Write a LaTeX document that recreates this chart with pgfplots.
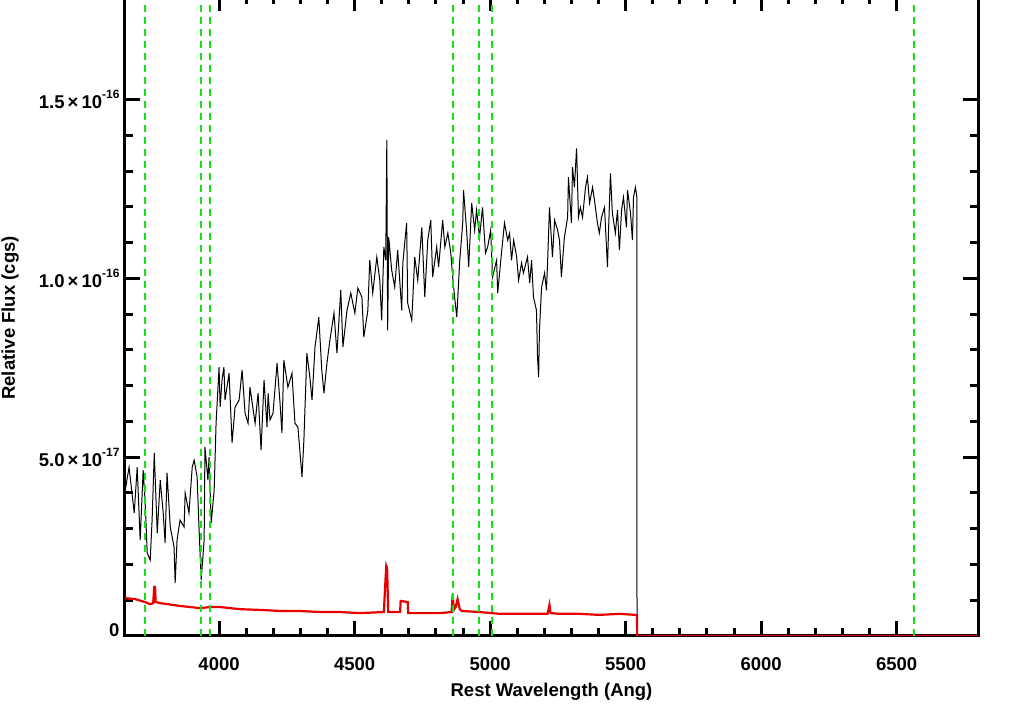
\documentclass[border=0pt]{standalone}
\usepackage{fontspec}
\setmainfont{Liberation Sans}
\usepackage{pgfplots}
\pgfplotsset{compat=1.18}

\definecolor{specred}{RGB}{230,0,0}
\definecolor{linegreen}{RGB}{20,225,20}

% flux in units of 1e-17 cgs
\pgfplotstableread{
lam flux
3654 4.08
3668 4.72
3687 3.44
3698 4.72
3709 2.68
3720 4.64
3727 3.80
3735 2.32
3746 2.12
3753 3.24
3761 5.12
3772 2.88
3783 4.36
3794 3.44
3801 2.60
3808 4.56
3820 3.05
3834 2.49
3838 1.48
3845 2.68
3856 3.24
3871 3.05
3875 4.00
3889 3.44
3901 4.72
3908 4.92
3919 4.45
3926 3.05
3934 1.57
3945 2.68
3948 5.28
3959 4.36
3963 5.00
3971 3.16
3982 4.08
3989 5.95
4000 7.52
4004 6.40
4011 7.16
4018 7.52
4022 6.60
4037 7.35
4048 5.40
4059 6.40
4074 6.60
4085 7.44
4096 6.23
4107 5.95
4114 6.96
4133 5.95
4144 6.79
4155 5.20
4166 7.16
4177 5.84
4181 6.79
4188 6.04
4199 6.23
4214 7.63
4225 6.51
4232 5.68
4239 7.72
4254 6.96
4269 7.35
4280 5.95
4291 5.84
4306 4.45
4313 5.48
4324 7.91
4335 7.24
4343 6.60
4354 8.08
4368 8.92
4379 7.44
4387 6.79
4398 7.63
4409 8.28
4424 9.03
4435 7.91
4449 9.67
4457 8.08
4472 9.11
4486 9.59
4501 9.03
4512 9.73
4527 9.48
4534 8.36
4549 9.11
4556 10.51
4567 9.59
4582 10.60
4593 9.95
4600 8.83
4608 10.88
4615 10.51
4619 13.87
4622 8.55
4626 11.15
4637 10.23
4648 9.76
4659 10.79
4674 9.11
4678 10.43
4692 11.55
4696 9.31
4711 8.83
4722 10.60
4733 9.95
4748 11.43
4759 9.48
4770 11.07
4781 11.63
4788 10.04
4803 10.88
4810 10.32
4825 11.63
4833 10.88
4844 11.27
4855 10.71
4862 10.04
4869 9.48
4877 8.92
4888 10.51
4899 11.55
4902 12.47
4914 11.27
4921 10.32
4932 12.11
4943 11.35
4950 11.91
4961 11.15
4972 11.99
4983 10.71
4991 10.88
5002 11.35
5009 10.04
5024 10.51
5028 9.59
5042 10.71
5053 11.55
5065 11.07
5072 11.27
5079 10.51
5087 11.07
5098 10.60
5105 9.95
5116 10.43
5123 10.15
5138 10.60
5146 9.87
5153 10.51
5160 9.48
5171 9.11
5175 7.80
5179 7.24
5182 8.55
5190 9.76
5201 10.15
5208 9.67
5212 10.43
5219 11.99
5230 10.60
5238 11.63
5249 11.35
5256 11.07
5263 10.04
5274 11.15
5286 11.71
5289 12.83
5300 11.55
5304 13.11
5311 12.55
5319 13.64
5326 11.71
5333 11.99
5341 11.71
5352 12.55
5359 12.83
5367 12.11
5378 12.55
5385 12.19
5396 11.55
5403 11.27
5411 11.71
5422 11.99
5433 10.32
5437 11.35
5444 12.94
5451 11.83
5462 11.27
5470 11.91
5477 10.79
5485 11.91
5492 12.27
5503 11.43
5507 12.47
5518 11.83
5525 11.07
5529 12.27
5536 12.55
5541 12.30
5542 0
6800 0
}\spectrum

\pgfplotstableread{
lam flux
3653 1.06
3691 1.03
3727 0.95
3746 0.89
3757 0.92
3761 1.37
3764 1.37
3766 0.95
3783 0.92
3856 0.84
3930 0.78
3967 0.81
4004 0.81
4077 0.75
4151 0.73
4225 0.70
4298 0.70
4372 0.67
4446 0.67
4519 0.64
4608 0.67
4615 1.71
4617 1.96
4620 1.90
4624 0.67
4648 0.67
4668 0.67
4670 0.98
4696 0.95
4698 0.64
4740 0.64
4814 0.64
4858 0.67
4862 1.17
4866 0.73
4873 0.81
4880 1.03
4888 0.75
4895 0.70
4961 0.67
5035 0.62
5109 0.62
5212 0.62
5219 0.87
5223 0.64
5256 0.62
5330 0.62
5403 0.59
5477 0.62
5536 0.59
5542 0.59
5542.5 0
6800 0
}\errspec

\begin{document}
\begin{tikzpicture}
\begin{axis}[
  scale only axis,
  width=853pt, height=640pt,
  xmin=3653, xmax=6800,
  ymin=0, ymax=17.9,
  axis line style={line width=3pt},
  every tick/.style={black, line width=3pt},
  major tick length=15pt,
  minor tick length=8pt,
  xtick={4000,4500,5000,5500,6000,6500},
  xticklabels={4000,4500,5000,5500,6000,6500},
  minor x tick num=4,
  ytick={0,5,10,15},
  yticklabels={\raisebox{6pt}[\height][\depth]{0},
    5.0{\,}×{\,}10\raisebox{10pt}{\fontsize{12}{12}\selectfont -17},
    1.0{\,}×{\,}10\raisebox{10pt}{\fontsize{12}{12}\selectfont -16},
    1.5{\,}×{\,}10\raisebox{10pt}{\fontsize{12}{12}\selectfont -16}},
  minor y tick num=4,
  tick label style={font=\fontsize{18.5}{22}\selectfont\bfseries},
  xticklabel style={anchor=base, yshift=-35pt},
  yticklabel style={anchor=east, xshift=-2pt},
  xlabel={Rest Wavelength (Ang)},
  ylabel={Relative Flux (cgs)},
  label style={font=\fontsize{18.5}{22}\selectfont\bfseries},
  xlabel style={at={(axis description cs:0.5,-0.0875)}, anchor=center},
  ylabel style={at={(axis description cs:-0.1348,0.497)}, anchor=center},
]
\addplot[black, line width=1pt] table[x=lam, y=flux] {\spectrum};
\addplot[specred, line width=2.2pt] table[x=lam, y=flux] {\errspec};
\foreach \w in {3727,3934,3968,4862,4960,5008,6563}{
  \edef\temp{\noexpand\addplot[linegreen, line width=2pt, dash pattern=on 7pt off 5pt] coordinates {(\w,0) (\w,17.9)};}
  \temp
}
\end{axis}
\pgfresetboundingbox
\path[use as bounding box] (-125pt,-70pt) rectangle (895pt,636pt);
\end{tikzpicture}
\end{document}
